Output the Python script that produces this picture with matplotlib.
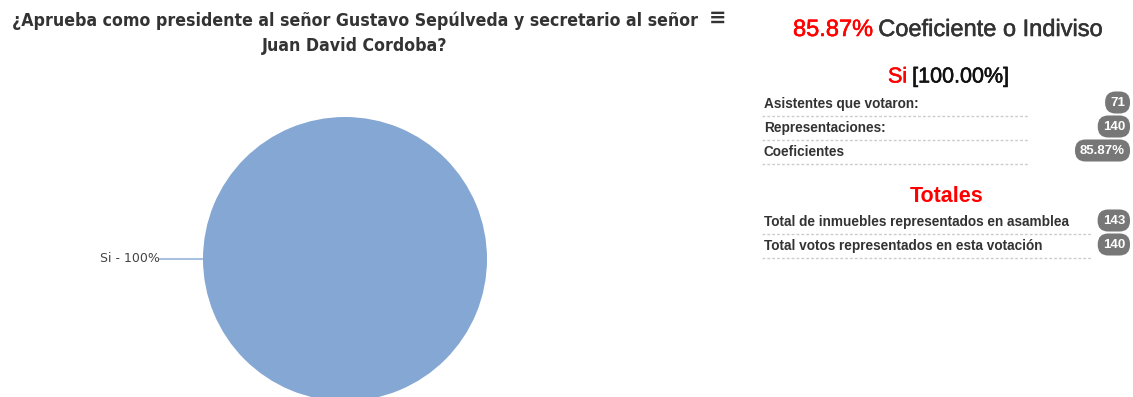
import matplotlib
matplotlib.use("Agg")
from matplotlib import pyplot as plt
from matplotlib import patheffects as pe

# data
labels = ["Si"]
shares = [100]
coef_total = "85.87%"
row_labels = ["Asistentes que votaron:", "Representaciones:", "Coeficientes"]
row_values = ["71", "140", "85.87%"]
total_labels = ["Total de inmuebles representados en asamblea",
                "Total votos representados en esta votación"]
total_values = ["143", "140"]

W, H = 1133, 397
fig = plt.figure(figsize=(W / 100, H / 100), dpi=100)

# overlay axes in pixel units for the text panel
ax = fig.add_axes([0, 0, 1, 1])
ax.set_xlim(0, W)
ax.set_ylim(H, 0)
ax.axis("off")

# pie: centre (345, 259), radius 142 px
cx, cy, r = 345, 259, 142
pax = fig.add_axes([(cx - r) / W, (H - cy - r) / H, 2 * r / W, 2 * r / H])
pax.pie(shares, colors=["#84a7d3"], startangle=90, counterclock=False,
        wedgeprops=dict(linewidth=0))
pax.set_xlim(-1, 1)
pax.set_ylim(-1, 1)
pax.set_aspect("equal")
pax.axis("off")

# connector + data label
ax.plot([160, cx - r + 2], [259, 259], color="#a9c1e1", lw=1.5, zorder=1)
ax.text(100, 258, f"{labels[0]} - {shares[0]}%", fontsize=9, color="#444444",
        ha="left", va="center", family="DejaVu Sans")

# title (condensed bold)
tfont = dict(family=["DejaVu Sans"], stretch="condensed", weight="bold",
             color="#333333", fontsize=12.7)
ax.text(355, 21, "¿Aprueba como presidente al señor Gustavo Sepúlveda y secretario al señor",
        ha="center", va="center", **tfont)
ax.text(355, 46, "Juan David Cordoba?", ha="center", va="center", **tfont)
ax.text(718, 18, "≡", ha="center", va="center", fontsize=15, weight="bold",
        color="#333333", family="DejaVu Sans")


def heavy(c):
    return [pe.withStroke(linewidth=0.4, foreground=c)]


# right panel header
hfont = dict(family=["Liberation Sans", "DejaVu Sans"], fontsize=17)
t1 = ax.text(793, 30, coef_total, color="#ff0000", ha="left", va="center",
             path_effects=heavy("#ff0000"), **hfont)
fig.canvas.draw()
bb = t1.get_window_extent()
ax.text(793 + bb.width + 5, 30, "Coeficiente o Indiviso", color="#333333",
        ha="left", va="center", path_effects=heavy("#333333"), **hfont)

sfont = dict(family=["Liberation Sans", "DejaVu Sans"], fontsize=15.5)
t2 = ax.text(888, 77, labels[0], color="#ff0000", ha="left", va="center",
             path_effects=heavy("#ff0000"), **sfont)
fig.canvas.draw()
bb = t2.get_window_extent()
ax.text(888 + bb.width + 5, 77, f"[{shares[0]:.2f}%]", color="#111111", ha="left",
        va="center", path_effects=heavy("#111111"), **sfont)

rfont = dict(family=["Liberation Sans", "DejaVu Sans"], fontsize=9.8, weight="bold",
             color="#333333")
badge = dict(boxstyle="round,pad=0.38,rounding_size=0.8", fc="#777777", ec="none")


def draw_rows(names, vals, y0, line_end):
    for i, (n, v) in enumerate(zip(names, vals)):
        y = y0 + i * 24
        ax.text(764, y, n, ha="left", va="center", **rfont)
        ax.text(1125, y - 3, v, ha="right", va="center_baseline",
                family=["Liberation Sans", "DejaVu Sans"],
                fontsize=9.5, weight="bold", color="white", bbox=badge)
        ax.plot([762, line_end], [y + 12, y + 12], color="#cccccc", lw=1,
                linestyle=(0, (2, 1.5)))


draw_rows(row_labels, row_values, 104, 1028)

ax.text(947, 196, "Totales", color="#ff0000", ha="center", va="center",
        family=["Liberation Sans", "DejaVu Sans"], fontsize=15.5, weight="bold")

draw_rows(total_labels, total_values, 222, 1092)

fig.savefig("out.png", dpi=100)
